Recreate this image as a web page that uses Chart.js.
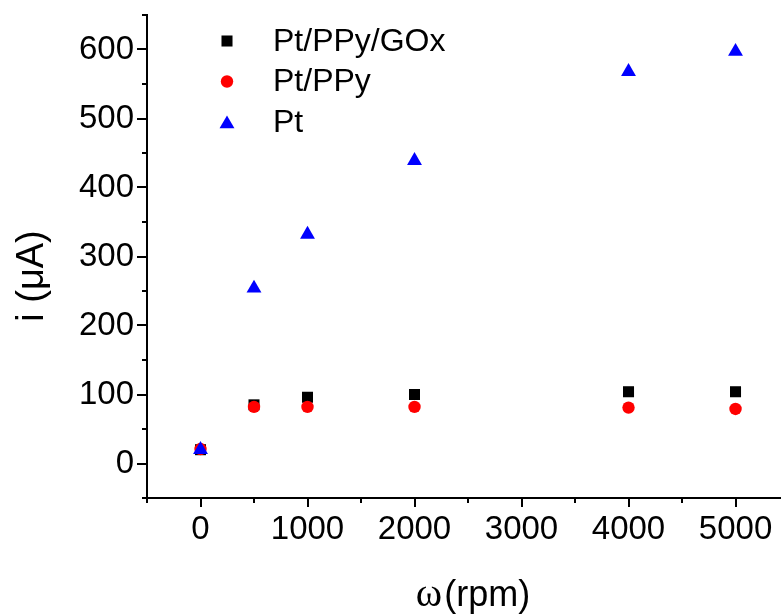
<!DOCTYPE html>
<html>
<head>
<meta charset="utf-8">
<title>i vs rotation rate</title>
<script src="https://cdn.jsdelivr.net/npm/chart.js@4/dist/chart.umd.min.js"></script>
<style>
  html, body { margin: 0; padding: 0; background: #fff; overflow: hidden; }
  #wrap { width: 781px; height: 615px; }
</style>
</head>
<body>
<div id="wrap"><canvas id="rde-chart" width="781" height="615"></canvas></div>
<script>
// rotation rate (rpm) and limiting current (µA) per electrode
const rpm     = [0, 500, 1000, 2000, 4000, 5000];
const ptPpyGox = [20, 85, 96, 100, 104, 104];
const ptPpy    = [21, 82, 82, 82, 81, 79];
const ptBare   = [20, 254, 332, 439, 568, 597];

const xMajor = [0, 1000, 2000, 3000, 4000, 5000];
const xMinor = [-500, 500, 1500, 2500, 3500, 4500];
const yMajor = [0, 100, 200, 300, 400, 500, 600];
const yMinor = [-50, 50, 150, 250, 350, 450, 550, 650];

// the x axis runs off the right edge of the canvas
const X_MIN = -500, X_MAX = 5425;
const Y_MIN = -50, Y_MAX = 650;

const FONT = '"Liberation Sans", Arial, Helvetica, sans-serif';

const series = [
  { label: 'Pt/PPy/GOx', y: ptPpyGox, color: '#000000', style: 'rect',     radius: 7.8, order: 3 },
  { label: 'Pt/PPy',     y: ptPpy,    color: '#ff0000', style: 'circle',   radius: 6.2, order: 2 },
  { label: 'Pt',         y: ptBare,   color: '#0000ff', style: 'triangle', radius: 8.6, order: 1 },
];

function drawMarker(ctx, style, x, y, r) {
  ctx.beginPath();
  if (style === 'rect') {
    const s = Math.SQRT1_2 * r;
    ctx.rect(x - s, y - s, 2 * s, 2 * s);
  } else if (style === 'circle') {
    ctx.arc(x, y, r, 0, Math.PI * 2);
  } else {
    ctx.moveTo(x, y - r);
    ctx.lineTo(x + r * Math.sin(Math.PI * 2 / 3), y + r / 2);
    ctx.lineTo(x - r * Math.sin(Math.PI * 2 / 3), y + r / 2);
    ctx.closePath();
  }
  ctx.fill();
}

// outward tick marks, long on labelled values, short in between
const tickMarks = {
  id: 'tickMarks',
  afterDraw(chart) {
    const { ctx, scales: { x, y }, chartArea: a } = chart;
    ctx.save();
    ctx.strokeStyle = '#000';
    ctx.lineWidth = 2;
    ctx.beginPath();
    xMajor.forEach(v => { const p = Math.round(x.getPixelForValue(v)); ctx.moveTo(p, a.bottom); ctx.lineTo(p, a.bottom + 9); });
    xMinor.forEach(v => { const p = Math.round(x.getPixelForValue(v)); ctx.moveTo(p, a.bottom); ctx.lineTo(p, a.bottom + 5); });
    yMajor.forEach(v => { const p = Math.round(y.getPixelForValue(v)); ctx.moveTo(a.left, p); ctx.lineTo(a.left - 10, p); });
    yMinor.forEach(v => { const p = Math.round(y.getPixelForValue(v)); ctx.moveTo(a.left, p); ctx.lineTo(a.left - 5, p); });
    ctx.stroke();
    ctx.restore();
  }
};

// legend inside the plot, top left
const insideLegend = {
  id: 'insideLegend',
  afterDraw(chart) {
    const { ctx } = chart;
    ctx.save();
    ctx.font = '32px ' + FONT;
    ctx.textBaseline = 'middle';
    ctx.textAlign = 'left';
    series.forEach((s, i) => {
      const cy = 41 + i * 40.5;
      ctx.fillStyle = s.color;
      drawMarker(ctx, s.style, 227, s.style === 'triangle' ? cy + 2 : cy, s.radius);
      ctx.fillStyle = '#000';
      ctx.fillText(s.label, 273, cy + 1);
    });
    ctx.restore();
  }
};

// axis titles
const axisTitles = {
  id: 'axisTitles',
  afterDraw(chart) {
    const { ctx } = chart;
    ctx.save();
    ctx.fillStyle = '#000';
    ctx.textBaseline = 'middle';

    ctx.save();
    ctx.translate(33, 276);
    ctx.rotate(-Math.PI / 2);
    ctx.textAlign = 'center';
    ctx.font = '38px ' + FONT;
    ctx.fillText('i (\u03BCA)', 0, 0);
    ctx.restore();

    const omega = '\u03C9';
    const rest = '(rpm)';
    ctx.font = '40px "Liberation Serif", "Times New Roman", serif';
    const w1 = ctx.measureText(omega).width;
    ctx.font = '36px ' + FONT;
    const w2 = ctx.measureText(rest).width;
    let x0 = 473 - (w1 + 2 + w2) / 2;
    ctx.textAlign = 'left';
    ctx.font = '40px "Liberation Serif", "Times New Roman", serif';
    ctx.fillText(omega, x0, 595);
    ctx.font = '36px ' + FONT;
    ctx.fillText(rest, x0 + w1 + 2, 596);
    ctx.restore();
  }
};

const plainLabel = v => String(v);

new Chart(document.getElementById('rde-chart'), {
  type: 'scatter',
  data: {
    datasets: series.map(s => ({
      label: s.label,
      data: rpm.map((r, i) => ({ x: r, y: s.y[i] })),
      pointStyle: s.style,
      pointRadius: s.radius,
      pointHoverRadius: s.radius,
      pointBackgroundColor: s.color,
      pointBorderColor: s.color,
      pointBorderWidth: 0,
      showLine: false,
      clip: false,
      order: s.order,
    }))
  },
  options: {
    responsive: false,
    animation: false,
    layout: { autoPadding: false, padding: { top: 15, right: 0, left: 0, bottom: 0 } },
    plugins: { legend: { display: false }, tooltip: { enabled: false } },
    scales: {
      x: {
        type: 'linear',
        min: X_MIN, max: X_MAX,
        afterBuildTicks: sc => { sc.ticks = xMajor.map(v => ({ value: v })); },
        afterFit: sc => { sc.height = 117; sc.paddingLeft = 0; sc.paddingRight = 0; },
        grid: { display: false, drawTicks: false },
        border: { display: true, color: '#000', width: 2 },
        ticks: { color: '#000', font: { family: FONT, size: 33 }, padding: 12, maxRotation: 0, autoSkip: false, callback: plainLabel },
      },
      y: {
        type: 'linear',
        min: Y_MIN, max: Y_MAX,
        afterBuildTicks: sc => { sc.ticks = yMajor.map(v => ({ value: v })); },
        afterFit: sc => { sc.width = 147; sc.paddingTop = 0; sc.paddingBottom = 0; },
        grid: { display: false, drawTicks: false },
        border: { display: true, color: '#000', width: 2 },
        ticks: { color: '#000', font: { family: FONT, size: 33 }, padding: 13, autoSkip: false, callback: plainLabel },
      }
    }
  },
  plugins: [tickMarks, insideLegend, axisTitles]
});
</script>
</body>
</html>
